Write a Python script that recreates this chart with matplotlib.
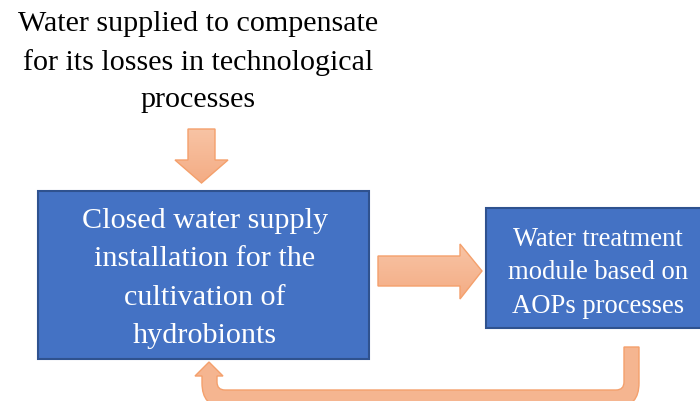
import matplotlib
matplotlib.use("Agg")
import numpy as np
import matplotlib.pyplot as plt
from matplotlib.patches import Rectangle, Polygon, PathPatch
from matplotlib.path import Path
from matplotlib.colors import LinearSegmentedColormap

# Diagram content
top_label = ["Water supplied to compensate", "for its losses in technological", "processes"]
main_box_label = ["Closed water supply", "installation for the", "cultivation of", "hydrobionts"]
side_box_label = ["Water treatment", "module based on", "AOPs processes"]

BOX_FACE = "#4472C4"
BOX_EDGE = "#2F528F"
ARROW_EDGE = "#F4A06C"
ARROW_FACE = "#F5B590"
grad = LinearSegmentedColormap.from_list("g", ["#F8C4A5", "#F4AC84"])

fig = plt.figure(figsize=(7.0, 4.02), dpi=100)
ax = fig.add_axes([0, 0, 1, 1])
ax.set_xlim(0, 700)
ax.set_ylim(402, 0)
ax.axis("off")

font = dict(family="Liberation Serif")


def gradient_patch(patch):
    ax.add_patch(patch)
    bb = patch.get_path().get_extents()
    img = np.linspace(0, 1, 64).reshape(-1, 1)
    im = ax.imshow(img, cmap=grad, aspect="auto",
                   extent=(bb.x0, bb.x1, bb.y1, bb.y0), origin="upper",
                   zorder=patch.get_zorder())
    im.set_clip_path(patch)
    ax.add_patch(PathPatch(patch.get_path(), fc="none", ec=ARROW_EDGE, lw=1,
                           zorder=patch.get_zorder() + 0.1))


# top text
ax.text(198, 62, "\n".join(top_label), ha="center", va="center", fontsize=21.6,
        color="black", linespacing=1.58, **font)

# down arrow
down = [(188, 130), (215, 130), (215, 161), (228, 161), (201.5, 184), (175, 161), (188, 161)]
gradient_patch(Polygon(down, closed=True, fc="none", ec="none"))

# main box
ax.add_patch(Rectangle((38, 192), 331, 168, fc=BOX_FACE, ec=BOX_EDGE, lw=1.5))
ax.text(205, 278.5, "\n".join(main_box_label), ha="center", va="center", fontsize=21.7,
        color="white", linespacing=1.62, **font)

# right arrow
right = [(378, 257), (460, 257), (460, 245), (482, 272), (460, 300), (460, 287), (378, 287)]
gradient_patch(Polygon(right, closed=True, fc="none", ec="none"))

# side box
ax.add_patch(Rectangle((486, 209), 220, 120, fc=BOX_FACE, ec=BOX_EDGE, lw=1.5))
ax.text(598, 273, "\n".join(side_box_label), ha="center", va="center", fontsize=19.2,
        color="white", linespacing=1.47, **font)

# return arrow
verts = [
    (624, 348), (639, 348), (639, 384),
    (639, 408), (617, 408),
    (224, 408),
    (202, 408), (202, 384),
    (202, 377), (195, 377), (209, 363), (223, 377), (217, 377), (217, 383),
    (217, 391), (225, 391),
    (616, 391),
    (624, 391), (624, 383),
    (624, 348),
]
codes = [Path.MOVETO, Path.LINETO, Path.LINETO,
         Path.CURVE3, Path.CURVE3,
         Path.LINETO,
         Path.CURVE3, Path.CURVE3,
         Path.LINETO, Path.LINETO, Path.LINETO, Path.LINETO, Path.LINETO, Path.LINETO,
         Path.CURVE3, Path.CURVE3,
         Path.LINETO,
         Path.CURVE3, Path.CURVE3,
         Path.CLOSEPOLY]
ax.add_patch(PathPatch(Path(verts, codes), fc=ARROW_FACE, ec=ARROW_EDGE, lw=1))

ax.set_xlim(0, 700)
ax.set_ylim(402, 0)
fig.savefig("out.png", dpi=100)
